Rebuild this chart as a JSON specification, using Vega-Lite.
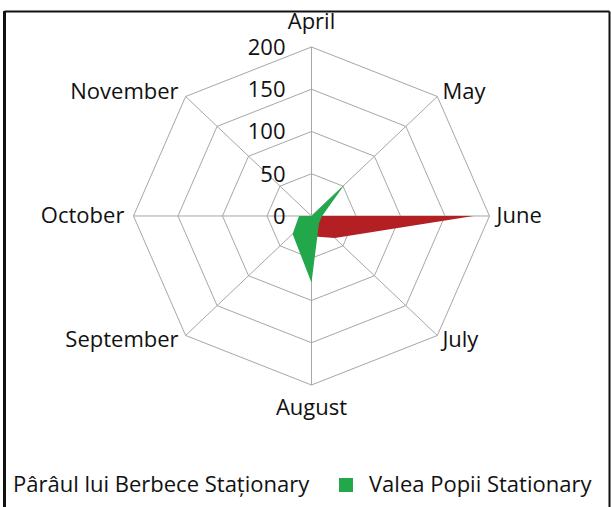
{
  "$schema": "https://vega.github.io/schema/vega-lite/v6.json",
  "autosize": "none",
  "width": 605,
  "height": 496,
  "padding": {"left": 4, "top": 11, "right": 2, "bottom": 0},
  "background": "white",
  "config": {
    "view": {"stroke": null},
    "font": "Open Sans",
    "axis": {"labels": false, "ticks": false, "grid": false, "domain": true, "domainColor": "#111111", "domainWidth": 2, "title": null}
  },
  "datasets": {
    "series": [
      {"month": "April", "series": "Pârâul lui Berbece Staționary", "value": 0},
      {"month": "May", "series": "Pârâul lui Berbece Staționary", "value": 0},
      {"month": "June", "series": "Pârâul lui Berbece Staționary", "value": 182},
      {"month": "July", "series": "Pârâul lui Berbece Staționary", "value": 37},
      {"month": "August", "series": "Pârâul lui Berbece Staționary", "value": 24},
      {"month": "September", "series": "Pârâul lui Berbece Staționary", "value": 0},
      {"month": "October", "series": "Pârâul lui Berbece Staționary", "value": 0},
      {"month": "November", "series": "Pârâul lui Berbece Staționary", "value": 0},
      {"month": "April", "series": "Valea Popii Stationary", "value": 0},
      {"month": "May", "series": "Valea Popii Stationary", "value": 52},
      {"month": "June", "series": "Valea Popii Stationary", "value": 12},
      {"month": "July", "series": "Valea Popii Stationary", "value": 12},
      {"month": "August", "series": "Valea Popii Stationary", "value": 79},
      {"month": "September", "series": "Valea Popii Stationary", "value": 30},
      {"month": "October", "series": "Valea Popii Stationary", "value": 14},
      {"month": "November", "series": "Valea Popii Stationary", "value": 0}
    ],
    "months": [
      {"month": "April", "rings": [50, 100, 150, 200]},
      {"month": "May", "rings": [50, 100, 150, 200]},
      {"month": "June", "rings": [50, 100, 150, 200]},
      {"month": "July", "rings": [50, 100, 150, 200]},
      {"month": "August", "rings": [50, 100, 150, 200]},
      {"month": "September", "rings": [50, 100, 150, 200]},
      {"month": "October", "rings": [50, 100, 150, 200]},
      {"month": "November", "rings": [50, 100, 150, 200]}
    ],
    "ticks": [
      {"tick": 0}, {"tick": 50}, {"tick": 100}, {"tick": 150}, {"tick": 200}
    ]
  },
  "encoding": {
    "x": {"field": "px", "type": "quantitative", "scale": {"domain": [-345.5, 334.3], "nice": false, "zero": false}, "axis": {"orient": "top"}},
    "y": {"field": "py", "type": "quantitative", "scale": {"domain": [-344.4, 242.6], "nice": false, "zero": false}, "axis": {"orient": "left"}}
  },
  "resolve": {"axis": {"y": "independent"}},
  "layer": [
    {
      "data": {"name": "months"},
      "transform": [
        {"flatten": ["rings"], "as": ["ring"]},
        {"calculate": "indexof(['April','May','June','July','August','September','October','November'], datum.month)", "as": "idx"},
        {"calculate": "datum.ring * sin(datum.idx * PI / 4)", "as": "px"},
        {"calculate": "datum.ring * cos(datum.idx * PI / 4)", "as": "py"}
      ],
      "mark": {"type": "line", "interpolate": "linear-closed", "stroke": "#a6a6a6", "strokeWidth": 1},
      "encoding": {
        "detail": {"field": "ring", "type": "nominal"},
        "order": {"field": "idx", "type": "quantitative"}
      }
    },
    {
      "data": {"name": "months"},
      "transform": [
        {"calculate": "indexof(['April','May','June','July','August','September','October','November'], datum.month)", "as": "idx"},
        {"calculate": "0", "as": "px"},
        {"calculate": "0", "as": "py"},
        {"calculate": "200 * sin(datum.idx * PI / 4)", "as": "qx"},
        {"calculate": "200 * cos(datum.idx * PI / 4)", "as": "qy"}
      ],
      "mark": {"type": "rule", "stroke": "#a6a6a6", "strokeWidth": 1},
      "encoding": {
        "x2": {"field": "qx"},
        "y2": {"field": "qy"},
        "y": {"field": "py", "type": "quantitative", "axis": {"orient": "right"}}
      }
    },
    {
      "data": {"name": "series"},
      "transform": [
        {"filter": "datum.series === 'Pârâul lui Berbece Staționary'"},
        {"calculate": "indexof(['April','May','June','July','August','September','October','November'], datum.month)", "as": "idx"},
        {"calculate": "datum.value * sin(datum.idx * PI / 4)", "as": "px"},
        {"calculate": "datum.value * cos(datum.idx * PI / 4)", "as": "py"}
      ],
      "mark": {"type": "line", "interpolate": "linear-closed", "strokeWidth": 0},
      "encoding": {
        "order": {"field": "idx", "type": "quantitative"},
        "fill": {
          "field": "series", "type": "nominal",
          "scale": {"domain": ["Pârâul lui Berbece Staționary", "Valea Popii Stationary"], "range": ["#B41F24", "#22A84B"]},
          "legend": {
            "title": null, "orient": "none", "direction": "horizontal",
            "legendX": -25, "legendY": 463,
            "symbolType": "square", "symbolSize": 196, "symbolStrokeWidth": 0,
            "labelFont": "Open Sans", "labelFontSize": 22, "labelColor": "#111111", "labelLimit": 0,
            "labelOffset": 12, "columnPadding": 25
          }
        }
      }
    },
    {
      "data": {"name": "series"},
      "transform": [
        {"filter": "datum.series === 'Valea Popii Stationary'"},
        {"calculate": "indexof(['April','May','June','July','August','September','October','November'], datum.month)", "as": "idx"},
        {"calculate": "datum.value * sin(datum.idx * PI / 4)", "as": "px"},
        {"calculate": "datum.value * cos(datum.idx * PI / 4)", "as": "py"}
      ],
      "mark": {"type": "line", "interpolate": "linear-closed", "strokeWidth": 0},
      "encoding": {
        "order": {"field": "idx", "type": "quantitative"},
        "fill": {"field": "series", "type": "nominal"}
      }
    },
    {
      "data": {"name": "months"},
      "transform": [
        {"filter": "indexof(['May','June','July'], datum.month) >= 0"},
        {"calculate": "indexof(['April','May','June','July','August','September','October','November'], datum.month)", "as": "idx"},
        {"calculate": "208 * sin(datum.idx * PI / 4)", "as": "px"},
        {"calculate": "208 * cos(datum.idx * PI / 4)", "as": "py"}
      ],
      "mark": {"type": "text", "align": "left", "baseline": "middle", "dx": 0, "font": "Open Sans", "fontSize": 22, "fill": "#111111"},
      "encoding": {"text": {"field": "month"}}
    },
    {
      "data": {"name": "months"},
      "transform": [
        {"filter": "indexof(['September','October','November'], datum.month) >= 0"},
        {"calculate": "indexof(['April','May','June','July','August','September','October','November'], datum.month)", "as": "idx"},
        {"calculate": "208 * sin(datum.idx * PI / 4)", "as": "px"},
        {"calculate": "208 * cos(datum.idx * PI / 4)", "as": "py"}
      ],
      "mark": {"type": "text", "align": "right", "baseline": "middle", "dx": -2, "font": "Open Sans", "fontSize": 22, "fill": "#111111"},
      "encoding": {"text": {"field": "month"}}
    },
    {
      "data": {"name": "months"},
      "transform": [
        {"filter": "indexof(['April','August'], datum.month) >= 0"},
        {"calculate": "indexof(['April','May','June','July','August','September','October','November'], datum.month)", "as": "idx"},
        {"calculate": "(datum.month === 'April' ? 230 : 227) * sin(datum.idx * PI / 4)", "as": "px"},
        {"calculate": "(datum.month === 'April' ? 230 : 227) * cos(datum.idx * PI / 4)", "as": "py"}
      ],
      "mark": {"type": "text", "align": "center", "baseline": "middle", "font": "Open Sans", "fontSize": 22, "fill": "#111111"},
      "encoding": {"text": {"field": "month"}}
    },
    {
      "data": {"name": "ticks"},
      "transform": [
        {"calculate": "0", "as": "px"},
        {"calculate": "datum.tick", "as": "py"}
      ],
      "mark": {"type": "text", "align": "right", "baseline": "middle", "dx": -26, "dy": 1, "font": "Open Sans", "fontSize": 22, "fill": "#111111"},
      "encoding": {"text": {"field": "tick", "type": "quantitative"}}
    }
  ]
}
